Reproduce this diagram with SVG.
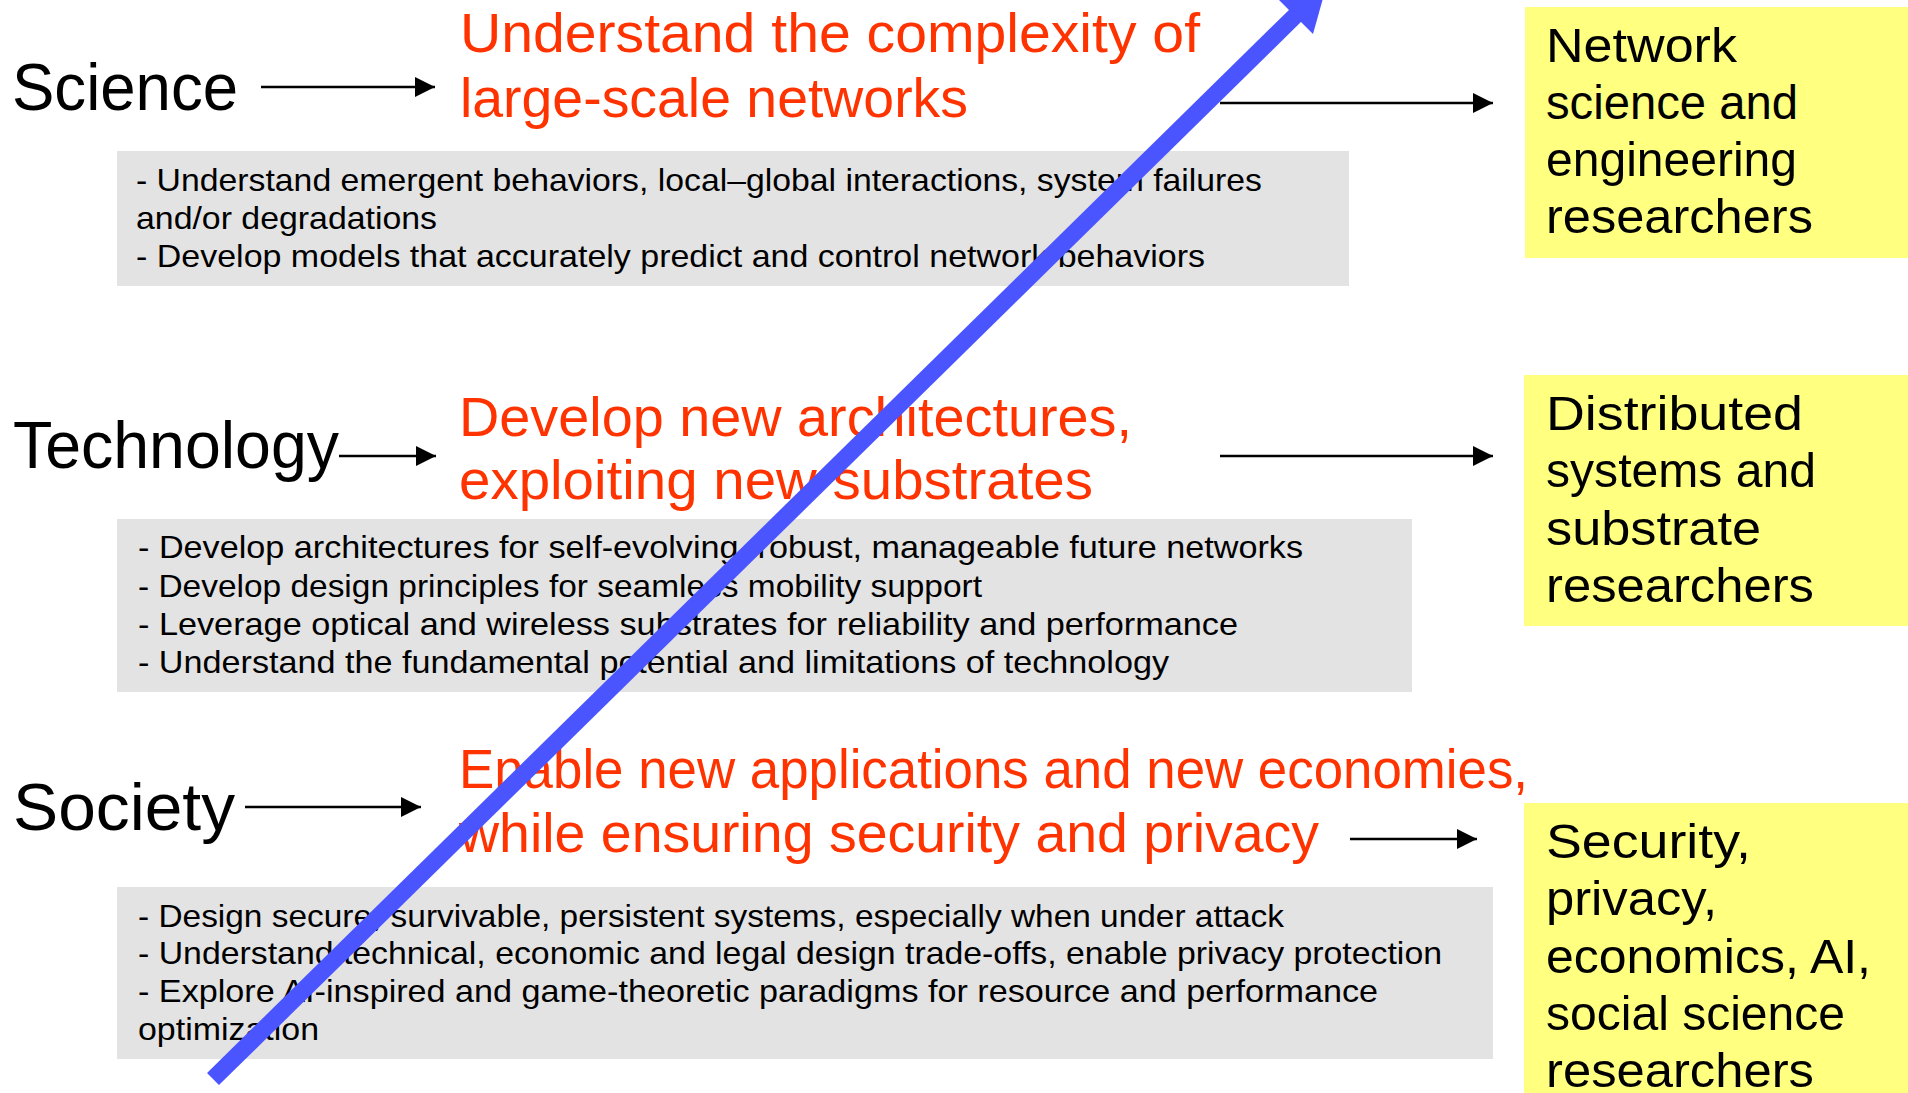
<svg xmlns="http://www.w3.org/2000/svg" width="1908" height="1093" viewBox="0 0 1908 1093">
<style>
text{font-family:"Liberation Sans","Open Sans","DejaVu Sans",sans-serif}
.lbl{font-size:66px;fill:#000}
.red{font-size:56px;fill:#ff3300}
.box{fill:#e3e3e3}
.bt{font-size:32px;fill:#000}
.yel{fill:#ffff80}
.yt{font-size:48px;fill:#000}
.conn{stroke:#000;stroke-width:2.5;fill:none;marker-end:url(#ah)}
</style>
<defs>
<marker id="ah" markerUnits="userSpaceOnUse" markerWidth="20" markerHeight="20" refX="20" refY="10" orient="auto">
<path d="M0,0 L20,10 L0,20 z" fill="#000"/>
</marker>
</defs>
<rect width="1908" height="1093" fill="#fff"/>

<g id="science">
<text class="lbl" x="12" y="110" textLength="226" lengthAdjust="spacingAndGlyphs">Science</text>
</g>
<g id="science-goal">
<text class="red" x="460" y="52" textLength="740" lengthAdjust="spacingAndGlyphs">Understand the complexity of</text>
<text class="red" x="460" y="117" textLength="508" lengthAdjust="spacingAndGlyphs">large-scale networks</text>
</g>
<g id="science-details">
<rect class="box" x="117" y="151" width="1232" height="135"/>
<text class="bt" x="136" y="191" textLength="1126" lengthAdjust="spacingAndGlyphs">- Understand emergent behaviors, local–global interactions, system failures</text>
<text class="bt" x="136" y="229" textLength="301" lengthAdjust="spacingAndGlyphs">and/or degradations</text>
<text class="bt" x="136" y="267" textLength="1069" lengthAdjust="spacingAndGlyphs">- Develop models that accurately predict and control network behaviors</text>
</g>
<g id="science-researchers">
<rect class="yel" x="1525" y="7" width="383" height="251"/>
<text class="yt" x="1546" y="62" textLength="191" lengthAdjust="spacingAndGlyphs">Network</text>
<text class="yt" x="1546" y="119" textLength="252" lengthAdjust="spacingAndGlyphs">science and</text>
<text class="yt" x="1546" y="176" textLength="251" lengthAdjust="spacingAndGlyphs">engineering</text>
<text class="yt" x="1546" y="233" textLength="267" lengthAdjust="spacingAndGlyphs">researchers</text>
</g>

<g id="technology">
<text class="lbl" x="13" y="468" textLength="326" lengthAdjust="spacingAndGlyphs">Technology</text>
</g>
<g id="technology-goal">
<text class="red" x="459" y="436" textLength="673" lengthAdjust="spacingAndGlyphs">Develop new architectures,</text>
<text class="red" x="459" y="499" textLength="634" lengthAdjust="spacingAndGlyphs">exploiting new substrates</text>
</g>
<g id="technology-details">
<rect class="box" x="117" y="519" width="1295" height="173"/>
<text class="bt" x="138" y="558" textLength="1165" lengthAdjust="spacingAndGlyphs">- Develop architectures for self-evolving, robust, manageable future networks</text>
<text class="bt" x="138" y="597" textLength="844" lengthAdjust="spacingAndGlyphs">- Develop design principles for seamless mobility support</text>
<text class="bt" x="138" y="635" textLength="1100" lengthAdjust="spacingAndGlyphs">- Leverage optical and wireless substrates for reliability and performance</text>
<text class="bt" x="138" y="673" textLength="1031" lengthAdjust="spacingAndGlyphs">- Understand the fundamental potential and limitations of technology</text>
</g>
<g id="technology-researchers">
<rect class="yel" x="1524" y="375" width="384" height="251"/>
<text class="yt" x="1546" y="430" textLength="257" lengthAdjust="spacingAndGlyphs">Distributed</text>
<text class="yt" x="1546" y="487" textLength="270" lengthAdjust="spacingAndGlyphs">systems and</text>
<text class="yt" x="1546" y="545" textLength="215" lengthAdjust="spacingAndGlyphs">substrate</text>
<text class="yt" x="1546" y="602" textLength="268" lengthAdjust="spacingAndGlyphs">researchers</text>
</g>

<g id="society">
<text class="lbl" x="13" y="830" textLength="222" lengthAdjust="spacingAndGlyphs">Society</text>
</g>
<g id="society-goal">
<text class="red" x="459" y="788" textLength="1069" lengthAdjust="spacingAndGlyphs">Enable new applications and new economies,</text>
<text class="red" x="459" y="852" textLength="860" lengthAdjust="spacingAndGlyphs">while ensuring security and privacy</text>
</g>
<g id="society-details">
<rect class="box" x="117" y="887" width="1376" height="172"/>
<text class="bt" x="138" y="927" textLength="1146" lengthAdjust="spacingAndGlyphs">- Design secure, survivable, persistent systems, especially when under attack</text>
<text class="bt" x="138" y="964" textLength="1304" lengthAdjust="spacingAndGlyphs">- Understand technical, economic and legal design trade-offs, enable privacy protection</text>
<text class="bt" x="138" y="1002" textLength="1240" lengthAdjust="spacingAndGlyphs">- Explore AI-inspired and game-theoretic paradigms for resource and performance</text>
<text class="bt" x="138" y="1040" textLength="181" lengthAdjust="spacingAndGlyphs">optimization</text>
</g>
<g id="society-researchers">
<rect class="yel" x="1524" y="803" width="384" height="290"/>
<text class="yt" x="1546" y="858" textLength="205" lengthAdjust="spacingAndGlyphs">Security,</text>
<text class="yt" x="1546" y="915" textLength="171" lengthAdjust="spacingAndGlyphs">privacy,</text>
<text class="yt" x="1546" y="973" textLength="325" lengthAdjust="spacingAndGlyphs">economics, AI,</text>
<text class="yt" x="1546" y="1030" textLength="299" lengthAdjust="spacingAndGlyphs">social science</text>
<text class="yt" x="1546" y="1087" textLength="268" lengthAdjust="spacingAndGlyphs">researchers</text>
</g>

<g id="connectors">
<line class="conn" x1="261" y1="87" x2="435" y2="87"/>
<line class="conn" x1="1220" y1="103" x2="1493" y2="103"/>
<line class="conn" x1="339" y1="456" x2="436" y2="456"/>
<line class="conn" x1="1220" y1="456" x2="1493" y2="456"/>
<line class="conn" x1="245" y1="807" x2="421" y2="807"/>
<line class="conn" x1="1350" y1="839" x2="1477" y2="839"/>
</g>

<g id="trend-arrow">
<line x1="213" y1="1079" x2="1299" y2="12" stroke="#4a54ff" stroke-width="17"/>
<polygon points="1277,-2 1313,34 1327,-16" fill="#4a54ff"/>
</g>
</svg>
